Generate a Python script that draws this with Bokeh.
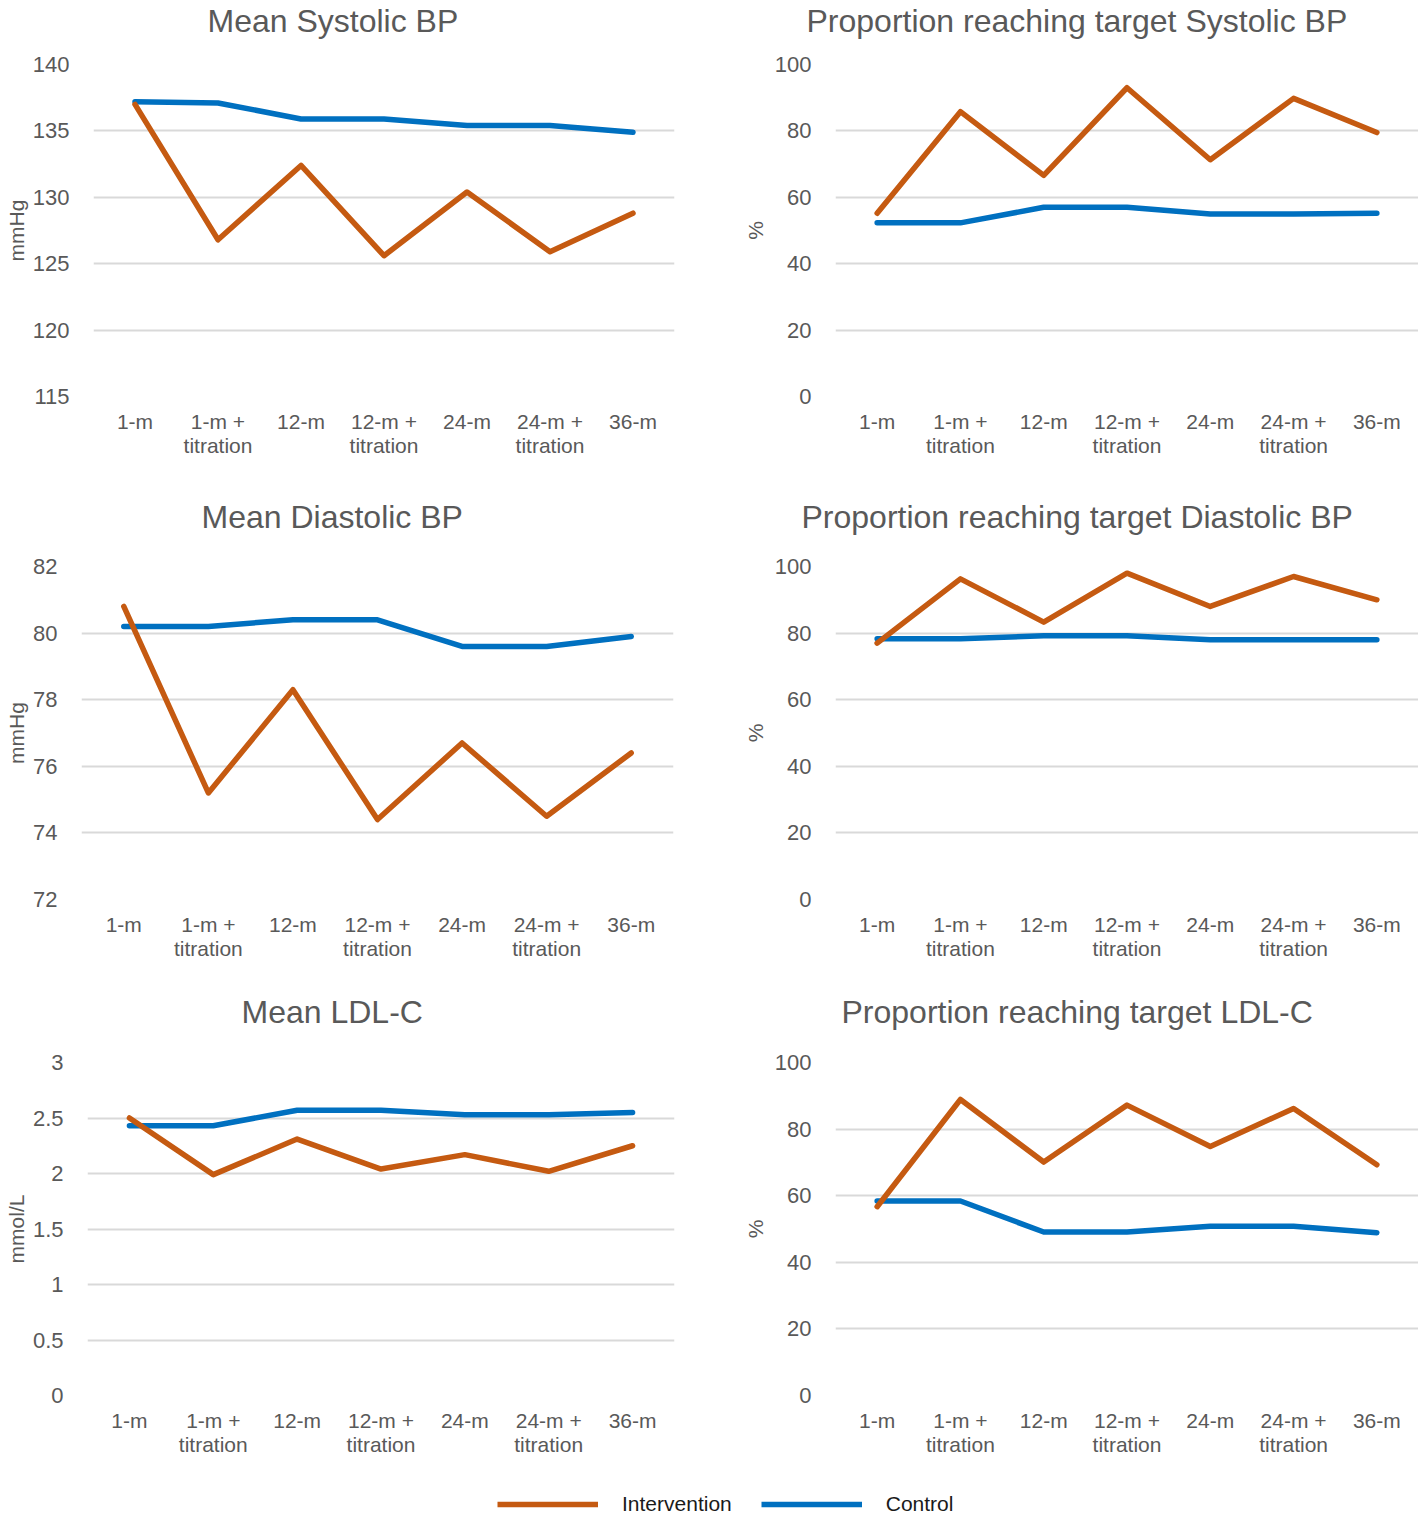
from bokeh.plotting import figure
from bokeh.models import FactorRange, Range1d, FixedTicker, Title, Legend, LegendItem
from bokeh.layouts import column, row
from bokeh.embed import file_html
from bokeh.resources import INLINE

# ---------------- data ----------------
categories = ["1-m", "1-m +\ntitration", "12-m", "12-m +\ntitration",
              "24-m", "24-m +\ntitration", "36-m"]
series_names = ["Intervention", "Control"]

sbp_intervention = [137.0, 126.8, 132.4, 125.6, 130.4, 125.9, 128.8]
sbp_control = [137.2, 137.1, 135.9, 135.9, 135.4, 135.4, 134.9]

sbp_target_intervention = [55.2, 85.8, 66.6, 93.0, 71.3, 89.8, 79.5]
sbp_target_control = [52.3, 52.3, 57.0, 57.0, 55.0, 55.0, 55.2]

dbp_intervention = [80.8, 75.2, 78.3, 74.4, 76.7, 74.5, 76.4]
dbp_control = [80.2, 80.2, 80.4, 80.4, 79.6, 79.6, 79.9]

dbp_target_intervention = [77.0, 96.3, 83.3, 98.0, 88.0, 97.0, 90.0]
dbp_target_control = [78.3, 78.3, 79.2, 79.2, 78.0, 78.0, 78.0]

ldl_intervention = [2.50, 1.99, 2.31, 2.04, 2.17, 2.02, 2.25]
ldl_control = [2.43, 2.43, 2.57, 2.57, 2.53, 2.53, 2.55]

ldl_target_intervention = [56.7, 88.9, 70.1, 87.2, 74.8, 86.2, 69.3]
ldl_target_control = [58.4, 58.4, 49.1, 49.1, 50.8, 50.8, 48.9]

titles = ["Mean Systolic BP", "Proportion reaching target Systolic BP",
          "Mean Diastolic BP", "Proportion reaching target Diastolic BP",
          "Mean LDL-C", "Proportion reaching target LDL-C"]
y_labels = ["mmHg", "%", "mmHg", "%", "mmol/L", "%"]

sbp_ticks = [115, 120, 125, 130, 135, 140]
dbp_ticks = [72, 74, 76, 78, 80, 82]
ldl_ticks = [0, 0.5, 1, 1.5, 2, 2.5, 3]
ldl_tick_labels = ["0", "0.5", "1", "1.5", "2", "2.5", "3"]
pct_ticks = [0, 20, 40, 60, 80, 100]

# ---------------- style ----------------
C_INT = "#C55A11"
C_CTL = "#0070C0"
GRAY = "#595959"
FONT = "Liberation Sans"


def panel(title, ylab, yticks, ylabels, inter, ctrl, width, bl, br, bt, fh, bb,
          title_offset, spacer_size, label_standoff):
    ymin, ymax = yticks[0], yticks[-1]
    p = figure(x_range=FactorRange(factors=categories),
               y_range=Range1d(ymin, ymax),
               width=width, height=bt + fh + bb,
               min_border_left=bl, min_border_right=br,
               min_border_top=bt, min_border_bottom=bb,
               output_backend="svg", toolbar_location=None)
    p.outline_line_color = None
    p.background_fill_color = "white"
    p.border_fill_color = "white"

    p.xgrid.grid_line_color = None
    p.ygrid.grid_line_color = "#d9d9d9"
    p.ygrid.grid_line_width = 2
    p.yaxis.ticker = FixedTicker(ticks=yticks)
    p.yaxis.major_label_overrides = {t: l for t, l in zip(yticks, ylabels)}

    for ax in (p.xaxis[0], p.yaxis[0]):
        ax.axis_line_color = None
        ax.major_tick_line_color = None
        ax.minor_tick_line_color = None
        ax.major_label_text_font = FONT
        ax.major_label_text_color = GRAY
    p.xaxis.major_label_text_font_size = "21px"
    p.yaxis.major_label_text_font_size = "22px"

    p.xaxis.major_label_standoff = 7
    p.xaxis.major_label_text_line_height = 1.05
    p.yaxis.major_label_standoff = 18
    p.yaxis.axis_label = ylab
    p.yaxis.axis_label_text_font = FONT
    p.yaxis.axis_label_text_font_size = "21px"
    p.yaxis.axis_label_text_font_style = "normal"
    p.yaxis.axis_label_text_color = GRAY
    p.yaxis.axis_label_standoff = label_standoff

    p.line(x=categories, y=ctrl, line_color=C_CTL, line_width=5.5,
           line_join="round", line_cap="round")
    p.line(x=categories, y=inter, line_color=C_INT, line_width=5.5,
           line_join="round", line_cap="round")

    # spacer between the frame and the title, then the title itself
    p.add_layout(Title(text=" ", text_font=FONT, text_font_size=spacer_size,
                       standoff=0), "above")
    p.add_layout(Title(text=title, text_font=FONT, text_font_size="32px",
                       text_font_style="normal", text_color=GRAY,
                       align="left", offset=title_offset, standoff=0), "above")
    return p


LW, RW = 705, 713

p1 = panel(titles[0], y_labels[0], sbp_ticks, [str(t) for t in sbp_ticks],
           sbp_intervention, sbp_control, LW, 93, 31, 64, 332, 98, 114, "21.5px", 2)
p2 = panel(titles[1], y_labels[1], pct_ticks, [str(t) for t in pct_ticks],
           sbp_target_intervention, sbp_target_control, RW, 130, 0, 64, 332, 98, -29, "21.5px", 5)
p3 = panel(titles[2], y_labels[2], dbp_ticks, [str(t) for t in dbp_ticks],
           dbp_intervention, dbp_control, LW, 81, 32, 72, 333, 92, 120, "27px", 2)
p4 = panel(titles[3], y_labels[3], pct_ticks, [str(t) for t in pct_ticks],
           dbp_target_intervention, dbp_target_control, RW, 130, 0, 72, 333, 92, -34, "27px", 5)
p5 = panel(titles[4], y_labels[4], ldl_ticks, ldl_tick_labels,
           ldl_intervention, ldl_control, LW, 87, 31, 71, 333, 95, 154, "27.5px", 2)
p6 = panel(titles[5], y_labels[5], pct_ticks, [str(t) for t in pct_ticks],
           ldl_target_intervention, ldl_target_control, RW, 130, 0, 71, 333, 95, 6, "27.5px", 5)

# ---------------- legend strip ----------------
# the series are drawn here too, but outside the visible y range, so only the legend shows
pl = figure(width=LW + RW, height=28, x_range=FactorRange(factors=categories),
            y_range=Range1d(-2, -1),
            min_border=0, x_axis_location=None, y_axis_location=None,
            output_backend="svg", toolbar_location=None)
pl.outline_line_color = None
pl.xgrid.grid_line_color = None
pl.ygrid.grid_line_color = None
r_int = pl.line(x=categories, y=ldl_intervention, line_color=C_INT, line_width=5.5)
r_ctl = pl.line(x=categories, y=ldl_control, line_color=C_CTL, line_width=5.5)
legend = Legend(items=[LegendItem(label=series_names[0], renderers=[r_int]),
                       LegendItem(label=series_names[1], renderers=[r_ctl])],
                orientation="horizontal", location=(497, 0),
                glyph_width=101, glyph_height=28, label_standoff=24, spacing=29,
                padding=0, margin=0, border_line_color=None,
                background_fill_alpha=0,
                label_text_font=FONT, label_text_font_size="21px",
                label_text_color="#1a1a1a", label_height=28)
pl.add_layout(legend)

layout = column(row(p1, p2), row(p3, p4), row(p5, p6), pl)

with open("out.html", "w") as f:
    f.write(file_html(layout, INLINE))
